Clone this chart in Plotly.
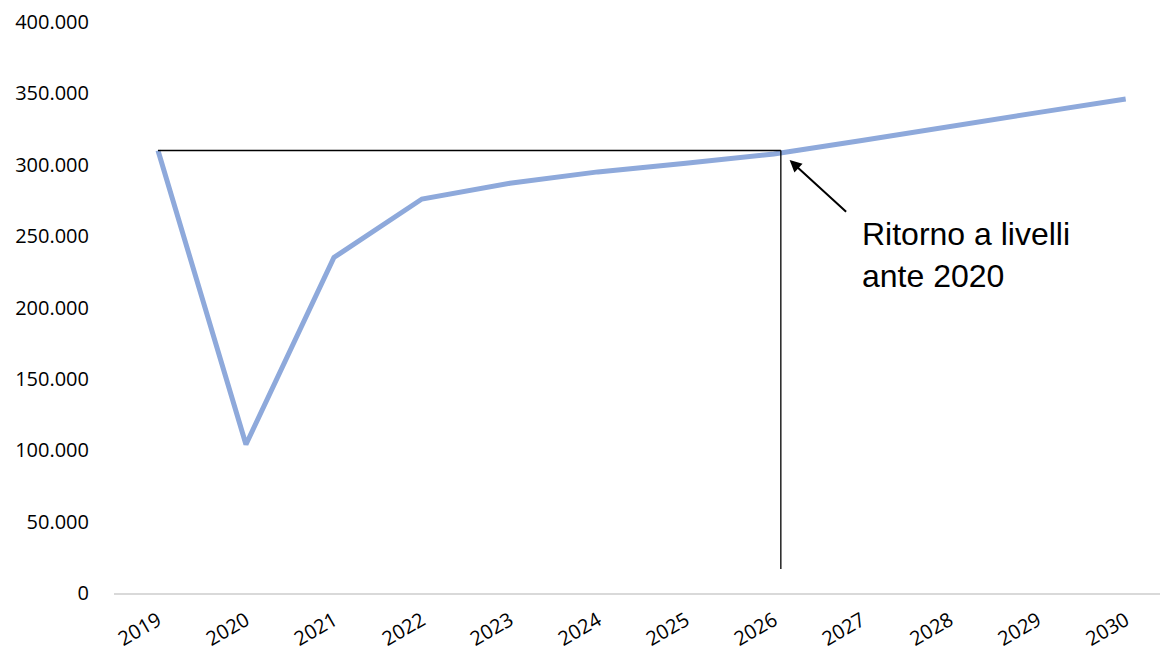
import plotly.graph_objects as go

years = ["2019", "2020", "2021", "2022", "2023", "2024", "2025", "2026", "2027", "2028", "2029", "2030"]
values = [310000, 104000, 235000, 276000, 287000, 295000, 301000, 307500, 317000, 327000, 336500, 346000]
y_ticks = [0, 50000, 100000, 150000, 200000, 250000, 300000, 350000, 400000]
y_tick_labels = ["0", "50.000", "100.000", "150.000", "200.000", "250.000", "300.000", "350.000", "400.000"]
annotation_text = "Ritorno a livelli<br>ante 2020"

x_idx = list(range(len(years)))
ref_level = values[0]
ret_idx = years.index("2026") + 0.08

fig = go.Figure()
fig.add_trace(go.Scatter(
    x=x_idx, y=values, mode="lines",
    line=dict(color="#8EA9DB", width=5),
    hoverinfo="skip", showlegend=False,
))

fig.add_shape(type="line", x0=0, x1=ret_idx, y0=ref_level, y1=ref_level,
              xref="x", yref="y", line=dict(color="black", width=1.3))
fig.add_shape(type="line", x0=ret_idx, x1=ret_idx, y0=16800, y1=ref_level,
              xref="x", yref="y", line=dict(color="black", width=1.3))

fig.add_annotation(x=7.18, y=303300, xref="x", yref="y", ax=58, ay=53,
                   text="", showarrow=True, arrowhead=2, arrowsize=1.2,
                   arrowwidth=2, arrowcolor="black")
fig.add_annotation(x=0.713, y=0.664, xref="paper", yref="paper",
                   xanchor="left", yanchor="top", align="left",
                   text=annotation_text, showarrow=False,
                   font=dict(family="Liberation Sans, Arial", size=32, color="black"))

fig.update_layout(
    width=1160, height=653,
    margin=dict(l=114, r=0, t=22, b=60),
    paper_bgcolor="white", plot_bgcolor="white",
    font=dict(family="Open Sans", size=20, color="black"),
    xaxis=dict(
        range=[-0.5, 11.39], tickmode="array", tickvals=x_idx, ticktext=years,
        tickangle=-30, showgrid=False, zeroline=False, automargin=False,
        showline=True, linecolor="#D9D9D9", linewidth=2,
        ticks="outside", ticklen=6, tickcolor="rgba(0,0,0,0)",
    ),
    yaxis=dict(
        range=[0, 400000], tickmode="array", tickvals=y_ticks, ticktext=y_tick_labels,
        showgrid=False, zeroline=False, showline=False, automargin=False,
        ticks="outside", ticklen=20, tickcolor="rgba(0,0,0,0)",
    ),
)

fig.write_html("out.html")
